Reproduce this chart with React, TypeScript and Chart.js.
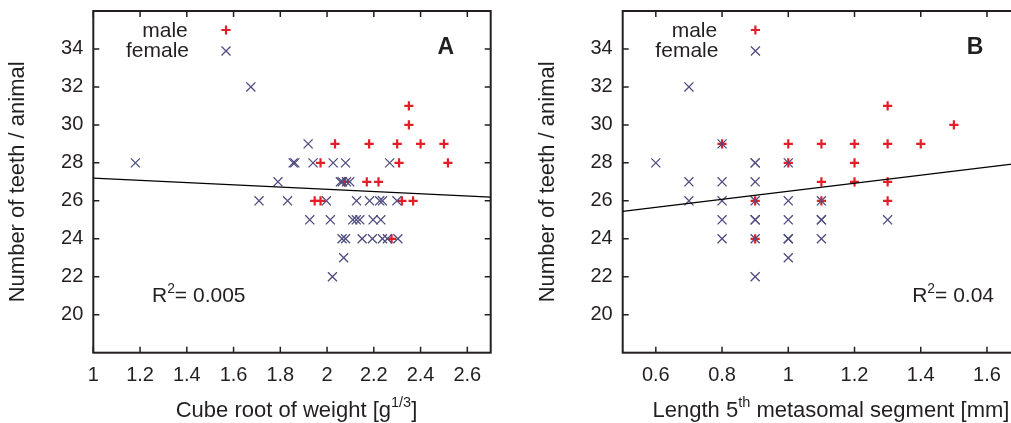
import React, { useEffect, useRef } from 'react';
import { Chart, registerables } from 'chart.js';

Chart.register(...registerables);

const FONT = "'Liberation Sans', Arial, sans-serif";
const TEXT = '#231f20';
const MALE_COLOR = '#e41e26';
const FEMALE_COLOR = '#4f4d7f';

// shared axis
const teethTicks = [20, 22, 24, 26, 28, 30, 32, 34];

// Panel A: cube root of weight
const weightTicks = [1, 1.2, 1.4, 1.6, 1.8, 2, 2.2, 2.4, 2.6];
const maleWeight = [2.35, 2.35, 2.034, 2.18, 2.3, 2.4, 2.5, 1.972, 2.308, 2.517, 2.076, 2.17, 2.22, 1.947, 1.972, 2.32, 2.368, 2.276];
const maleTeethA = [31, 30, 29, 29, 29, 29, 29, 28, 28, 28, 27, 27, 27, 26, 26, 26, 26, 24];
const femaleWeight = [
  1.18, 1.674, 1.919, 1.855, 1.862, 1.94, 2.026, 2.079, 2.268,
  1.79, 2.057, 2.065, 2.083, 2.097,
  1.709, 1.831, 1.997, 2.126, 2.182, 2.225, 2.237, 2.299,
  1.926, 2.014, 2.11, 2.125, 2.14, 2.197, 2.23,
  2.064, 2.079, 2.15, 2.194, 2.237, 2.258, 2.303,
  2.071, 2.023,
];
const femaleTeethA = [
  28, 32, 29, 28, 28, 28, 28, 28, 28,
  27, 27, 27, 27, 27,
  26, 26, 26, 26, 26, 26, 26, 26,
  25, 25, 25, 25, 25, 25, 25,
  24, 24, 24, 24, 24, 24, 24,
  23, 22,
];
const fitWeight = [1, 2.7];
const fitTeethA = [27.2, 26.2];

// Panel B: length of 5th metasomal segment
const lengthTicks = [0.6, 0.8, 1, 1.2, 1.4, 1.6];
const maleLength = [0.8, 1.0, 1.1, 1.2, 1.3, 1.4, 1.3, 1.5, 1.0, 1.2, 1.1, 1.2, 1.3, 0.9, 1.1, 1.3, 0.9];
const maleTeethB = [29, 29, 29, 29, 29, 29, 31, 30, 28, 28, 27, 27, 27, 26, 26, 26, 24];
const femaleLength = [
  0.6, 0.7, 0.8, 0.9, 0.9, 1.0,
  0.7, 0.8, 0.9,
  0.7, 0.8, 0.9, 1.0, 1.1,
  0.8, 0.9, 0.9, 1.0, 1.1, 1.1, 1.3,
  0.8, 0.9, 1.0, 1.0, 1.1,
  1.0, 0.9,
];
const femaleTeethB = [
  28, 32, 29, 28, 28, 28,
  27, 27, 27,
  26, 26, 26, 26, 26,
  25, 25, 25, 25, 25, 25, 25,
  24, 24, 24, 24, 24,
  23, 22,
];
const fitLength = [0.5, 1.7];
const fitTeethB = [25.45, 27.99];

type Rich = { text: string; sup?: boolean };

function drawRich(ctx: CanvasRenderingContext2D, parts: Rich[], x: number, y: number, size: number, align: 'left' | 'center' | 'right') {
  const supSize = size * 0.66;
  ctx.textAlign = 'left';
  ctx.textBaseline = 'alphabetic';
  const widths = parts.map((p) => {
    ctx.font = `${p.sup ? supSize : size}px ${FONT}`;
    return ctx.measureText(p.text).width;
  });
  const total = widths.reduce((s, w) => s + w, 0);
  let cx = align === 'center' ? x - total / 2 : align === 'right' ? x - total : x;
  parts.forEach((p, i) => {
    ctx.font = `${p.sup ? supSize : size}px ${FONT}`;
    ctx.fillText(p.text, cx, p.sup ? y - size * 0.42 : y);
    cx += widths[i];
  });
}

function plus(ctx: CanvasRenderingContext2D, x: number, y: number) {
  ctx.save();
  ctx.strokeStyle = MALE_COLOR;
  ctx.lineWidth = 2.2;
  ctx.beginPath();
  ctx.moveTo(x - 4.6, y); ctx.lineTo(x + 4.6, y);
  ctx.moveTo(x, y - 4.6); ctx.lineTo(x, y + 4.6);
  ctx.stroke();
  ctx.restore();
}
function cross(ctx: CanvasRenderingContext2D, x: number, y: number) {
  ctx.save();
  ctx.strokeStyle = FEMALE_COLOR;
  ctx.lineWidth = 1.3;
  const d = 4.5;
  ctx.beginPath();
  ctx.moveTo(x - d, y - d); ctx.lineTo(x + d, y + d);
  ctx.moveTo(x + d, y - d); ctx.lineTo(x - d, y + d);
  ctx.stroke();
  ctx.restore();
}

interface PanelProps {
  left: number;
  width: number;
  padRight: number;
  yWidth: number;
  yTitlePad: number;
  xMin: number;
  xMax: number;
  xTicks: number[];
  maleX: number[];
  maleY: number[];
  femaleX: number[];
  femaleY: number[];
  fitX: number[];
  fitY: number[];
  letter: string;
  xTitle: Rich[];
  xTitleCenter: number;
  r2: Rich[];
  r2X: number;
  r2Align: 'left' | 'right';
}

const HEIGHT = 423;

function Panel(p: PanelProps) {
  const ref = useRef<HTMLCanvasElement>(null);
  useEffect(() => {
    if (!ref.current) return;
    const framePlugin = {
      id: 'frame',
      beforeDatasetsDraw(chart: any) {
        const { ctx, chartArea: a, scales } = chart;
        ctx.save();
        ctx.strokeStyle = TEXT;
        ctx.lineWidth = 1.5;
        ctx.beginPath();
        scales.x.ticks.forEach((t: any) => {
          const px = scales.x.getPixelForValue(t.value);
          ctx.moveTo(px, a.bottom); ctx.lineTo(px, a.bottom - 6);
          ctx.moveTo(px, a.top); ctx.lineTo(px, a.top + 6);
        });
        scales.y.ticks.forEach((t: any) => {
          const py = scales.y.getPixelForValue(t.value);
          ctx.moveTo(a.left, py); ctx.lineTo(a.left + 6, py);
          ctx.moveTo(a.right, py); ctx.lineTo(a.right - 6, py);
        });
        ctx.stroke();
        ctx.lineWidth = 2;
        ctx.strokeRect(a.left, a.top, a.right - a.left, a.bottom - a.top);
        ctx.restore();
      },
      afterDraw(chart: any) {
        const { ctx, chartArea: a } = chart;
        ctx.save();
        ctx.fillStyle = TEXT;
        // legend
        ctx.font = `21px ${FONT}`;
        ctx.textAlign = 'right';
        ctx.textBaseline = 'alphabetic';
        ctx.fillText('male', a.left + 94.5, a.top + 25.7);
        ctx.fillText('female', a.left + 95.7, a.top + 46.3);
        plus(ctx, a.left + 132.7, a.top + 19);
        cross(ctx, a.left + 132.7, a.top + 40);
        // panel letter
        ctx.font = `bold 23px ${FONT}`;
        ctx.textAlign = 'center';
        ctx.fillText(p.letter, a.right - 45, a.top + 43);
        // R^2 text
        drawRich(ctx, p.r2, a.left + p.r2X, a.top + 290.7, 21, p.r2Align);
        // x title
        drawRich(ctx, p.xTitle, p.xTitleCenter, 416.5, 22, 'center');
        ctx.restore();
      },
    };

    const toPts = (xs: number[], ys: number[]) => xs.map((x, i) => ({ x, y: ys[i] }));

    const chart = new Chart(ref.current, {
      type: 'scatter',
      data: {
        datasets: [
          {
            type: 'line',
            label: 'fit',
            data: toPts(p.fitX, p.fitY),
            borderColor: '#000000',
            borderWidth: 1.3,
            pointRadius: 0,
            showLine: true,
            fill: false,
          } as any,
          {
            label: 'female',
            data: toPts(p.femaleX, p.femaleY),
            pointStyle: 'crossRot',
            pointRadius: 6.4,
            pointBorderWidth: 1.3,
            borderColor: FEMALE_COLOR,
            backgroundColor: FEMALE_COLOR,
          },
          {
            label: 'male',
            data: toPts(p.maleX, p.maleY),
            pointStyle: 'cross',
            pointRadius: 4.6,
            pointBorderWidth: 2.2,
            borderColor: MALE_COLOR,
            backgroundColor: MALE_COLOR,
          },
        ],
      },
      options: {
        animation: false,
        responsive: false,
        events: [],
        layout: { padding: { left: 0, top: 11, right: p.padRight, bottom: 0 } },
        plugins: { legend: { display: false }, tooltip: { enabled: false } },
        scales: {
          x: {
            type: 'linear',
            min: p.xMin,
            max: p.xMax,
            grid: { display: false, drawTicks: false },
            border: { display: false },
            afterBuildTicks: (s: any) => { s.ticks = p.xTicks.map((v) => ({ value: v })); },
            afterFit: (s: any) => {
              s.height = HEIGHT - 352.7;
              s.paddingLeft = 0; s.paddingRight = 0; s.paddingTop = 0; s.paddingBottom = 0;
            },
            ticks: {
              autoSkip: false,
              maxRotation: 0,
              padding: 10.6,
              color: TEXT,
              font: { family: FONT, size: 20 },
              callback: (v: any) => String(Math.round(Number(v) * 10) / 10),
            },
          },
          y: {
            type: 'linear',
            min: 18,
            max: 36,
            grid: { display: false, drawTicks: false },
            border: { display: false },
            afterBuildTicks: (s: any) => { s.ticks = teethTicks.map((v) => ({ value: v })); },
            afterFit: (s: any) => {
              s.width = p.yWidth;
              s.paddingLeft = 0; s.paddingRight = 0; s.paddingTop = 0; s.paddingBottom = 0;
            },
            ticks: {
              autoSkip: false,
              padding: 10,
              color: TEXT,
              font: { family: FONT, size: 20 },
            },
            title: {
              display: true,
              text: 'Number of teeth / animal',
              color: TEXT,
              font: { family: FONT, size: 22 },
              padding: { top: p.yTitlePad, bottom: 0 },
            },
          },
        },
      },
      plugins: [framePlugin],
    } as any);
    return () => chart.destroy();
  }, []);
  return (
    <canvas
      ref={ref}
      width={p.width}
      height={HEIGHT}
      style={{ position: 'absolute', left: p.left, top: 0, width: p.width, height: HEIGHT }}
    />
  );
}

export default function App() {
  return (
    <div style={{ position: 'fixed', left: 0, top: 0, width: 1011, height: HEIGHT, overflow: 'hidden', background: '#ffffff' }}>
      <Panel
        left={0}
        width={505}
        padRight={505 - 490.7}
        yWidth={93.3}
        yTitlePad={5.1}
        xMin={1}
        xMax={2.7}
        xTicks={weightTicks}
        maleX={maleWeight}
        maleY={maleTeethA}
        femaleX={femaleWeight}
        femaleY={femaleTeethA}
        fitX={fitWeight}
        fitY={fitTeethA}
        letter="A"
        xTitle={[{ text: 'Cube root of weight [g' }, { text: '1/3', sup: true }, { text: ']' }]}
        xTitleCenter={296.5}
        r2={[{ text: 'R' }, { text: '2', sup: true }, { text: '= 0.005' }]}
        r2X={58.7}
        r2Align="left"
      />
      <Panel
        left={505}
        width={530}
        padRight={530 - 515.1}
        yWidth={117.7}
        yTitlePad={29.5}
        xMin={0.5}
        xMax={1.7}
        xTicks={lengthTicks}
        maleX={maleLength}
        maleY={maleTeethB}
        femaleX={femaleLength}
        femaleY={femaleTeethB}
        fitX={fitLength}
        fitY={fitTeethB}
        letter="B"
        xTitle={[{ text: 'Length 5' }, { text: 'th', sup: true }, { text: ' metasomal segment [mm]' }]}
        xTitleCenter={831 - 505}
        r2={[{ text: 'R' }, { text: '2', sup: true }, { text: '= 0.04' }]}
        r2X={371.3}
        r2Align="right"
      />
    </div>
  );
}
